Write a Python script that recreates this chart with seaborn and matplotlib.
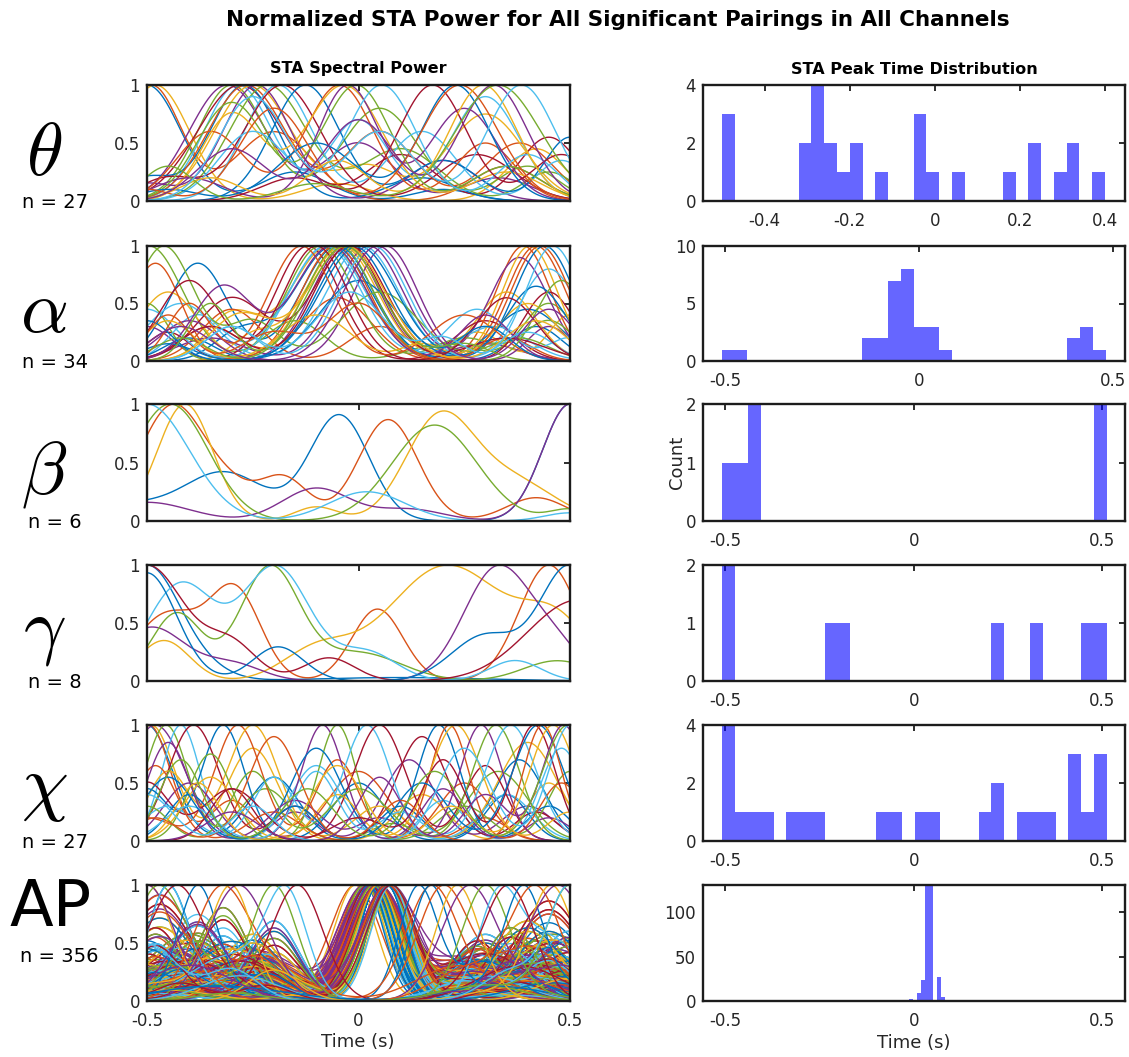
import numpy as np
import pandas as pd
import matplotlib
matplotlib.use("Agg")
import matplotlib.pyplot as plt
import seaborn as sns

sns.set_theme(style="white")
plt.rcParams["font.family"] = ["DejaVu Sans"]
plt.rcParams["mathtext.fontset"] = "cm"
plt.rcParams["axes.unicode_minus"] = False

# ---------------------------------------------------------------- data
# Each pairing: peak time of the normalized STA power, width of the main
# lobe, and secondary lobes (centre, width, relative height).

theta_peaks = [-0.50, -0.49, -0.48, -0.31, -0.30, -0.285, -0.28, -0.27, -0.265,
               -0.25, -0.24, -0.215, -0.19, -0.18, -0.125, -0.045, -0.035,
               -0.025, -0.005, 0.055, 0.175, 0.23, 0.24, 0.295, 0.32, 0.33, 0.385]
theta_widths = [0.08, 0.07, 0.08, 0.09, 0.08, 0.08, 0.10, 0.08, 0.09, 0.09, 0.08,
                0.09, 0.08, 0.09, 0.08, 0.08, 0.09, 0.07, 0.08, 0.08, 0.08, 0.08,
                0.09, 0.08, 0.08, 0.10, 0.08]
theta_side = [
    [(-0.15, 0.08, 0.25), (0.20, 0.07, 0.10)],
    [(-0.20, 0.09, 0.60), (0.35, 0.08, 0.30)],
    [(-0.05, 0.08, 0.15), (0.42, 0.07, 0.45)],
    [(0.00, 0.08, 0.50), (0.33, 0.08, 0.20)],
    [(0.05, 0.09, 0.80), (0.40, 0.07, 0.30)],
    [(0.00, 0.07, 0.70), (0.30, 0.08, 0.90)],
    [(0.10, 0.08, 0.40), (0.45, 0.07, 0.55)],
    [(-0.50, 0.06, 0.20), (0.15, 0.08, 0.20)],
    [(0.05, 0.08, 0.60), (0.38, 0.08, 0.50)],
    [(0.02, 0.07, 0.30), (0.30, 0.09, 0.75)],
    [(-0.50, 0.06, 0.15), (0.20, 0.08, 0.35)],
    [(0.10, 0.09, 0.45), (0.45, 0.06, 0.25)],
    [(0.15, 0.08, 0.60), (0.48, 0.06, 0.35)],
    [(-0.45, 0.07, 0.20), (0.28, 0.09, 0.40)],
    [(0.20, 0.08, 0.35), (0.50, 0.06, 0.55)],
    [(-0.35, 0.08, 0.60), (0.30, 0.07, 0.50)],
    [(-0.30, 0.07, 0.75), (0.35, 0.08, 0.25)],
    [(-0.40, 0.08, 0.20), (0.25, 0.08, 0.80)],
    [(-0.30, 0.08, 0.85), (0.35, 0.08, 0.30)],
    [(-0.25, 0.08, 0.60), (0.40, 0.07, 0.40)],
    [(-0.15, 0.08, 0.20), (0.48, 0.07, 0.40)],
    [(-0.10, 0.09, 0.50), (-0.45, 0.07, 0.10)],
    [(-0.20, 0.08, 0.80), (-0.50, 0.05, 0.10)],
    [(-0.05, 0.07, 0.35), (-0.35, 0.07, 0.20)],
    [(0.00, 0.08, 0.70), (-0.30, 0.08, 0.45)],
    [(-0.10, 0.08, 0.15), (-0.45, 0.06, 0.30)],
    [(0.05, 0.08, 0.60), (-0.25, 0.08, 0.90)],
]

alpha_peaks = [-0.05, 0.42, -0.07, -0.03, -0.495, 0.01, -0.12, -0.06, 0.39, -0.04,
               0.025, -0.09, -0.074, -0.02, 0.44, -0.055, -0.036, 0.065, -0.46,
               -0.078, -0.024, 0.0, -0.135, 0.405, -0.065, -0.045, 0.035, -0.10,
               -0.012, 0.43, -0.028, 0.045, -0.032, 0.46]
alpha_widths = [0.085, 0.07, 0.09, 0.08, 0.08, 0.085, 0.075, 0.09, 0.065, 0.085,
                0.08, 0.08, 0.09, 0.085, 0.07, 0.08, 0.09, 0.075, 0.07, 0.085,
                0.08, 0.09, 0.075, 0.065, 0.085, 0.08, 0.08, 0.075, 0.085, 0.07,
                0.09, 0.08, 0.085, 0.065]
alpha_side = [
    [(-0.38, 0.07, 0.85), (0.42, 0.06, 0.30)],
    [(-0.05, 0.08, 0.55), (-0.35, 0.07, 0.30)],
    [(-0.30, 0.06, 0.40), (0.35, 0.07, 0.60)],
    [(-0.50, 0.06, 0.30), (0.30, 0.08, 0.15)],
    [(-0.15, 0.07, 0.35), (0.20, 0.08, 0.15), (0.45, 0.06, 0.50)],
    [(-0.42, 0.08, 0.50), (0.45, 0.07, 0.80)],
    [(-0.45, 0.05, 0.25), (0.30, 0.07, 0.35)],
    [(-0.28, 0.06, 0.25), (0.40, 0.08, 0.45)],
    [(-0.30, 0.07, 0.45), (0.05, 0.07, 0.30)],
    [(-0.45, 0.07, 0.60), (0.28, 0.06, 0.25), (0.50, 0.05, 0.40)],
    [(-0.35, 0.08, 0.20), (0.38, 0.07, 0.90)],
    [(-0.50, 0.05, 0.50), (0.25, 0.07, 0.20), (0.45, 0.06, 0.35)],
    [(-0.38, 0.06, 0.40), (0.32, 0.08, 0.30)],
    [(-0.30, 0.08, 0.55), (0.45, 0.06, 0.60)],
    [(-0.40, 0.06, 0.20), (0.00, 0.09, 0.70)],
    [(-0.48, 0.06, 0.85), (0.35, 0.06, 0.20)],
    [(-0.25, 0.05, 0.20), (0.40, 0.07, 0.50)],
    [(-0.40, 0.07, 0.35), (0.45, 0.05, 0.30)],
    [(-0.25, 0.06, 0.35), (0.05, 0.09, 0.60), (0.38, 0.07, 0.20)],
    [(-0.50, 0.07, 0.45), (0.28, 0.07, 0.45), (0.50, 0.05, 0.20)],
    [(-0.35, 0.07, 0.30), (0.35, 0.09, 0.20)],
    [(-0.45, 0.06, 0.15), (0.42, 0.07, 0.65)],
    [(-0.40, 0.05, 0.50), (0.25, 0.08, 0.40)],
    [(-0.45, 0.06, 0.35), (-0.10, 0.08, 0.40), (0.15, 0.05, 0.15)],
    [(-0.32, 0.07, 0.65), (0.30, 0.06, 0.40)],
    [(-0.42, 0.06, 0.20), (0.48, 0.06, 0.70)],
    [(-0.30, 0.06, 0.30), (0.40, 0.06, 0.25)],
    [(-0.40, 0.07, 0.70), (0.35, 0.07, 0.55)],
    [(-0.50, 0.06, 0.35), (0.30, 0.06, 0.30)],
    [(-0.20, 0.07, 0.25), (0.00, 0.07, 0.50), (-0.45, 0.05, 0.40)],
    [(-0.28, 0.07, 0.40), (0.42, 0.07, 0.35)],
    [(-0.42, 0.07, 0.30), (0.45, 0.06, 0.45)],
    [(-0.35, 0.05, 0.50), (0.25, 0.06, 0.15)],
    [(-0.30, 0.06, 0.30), (-0.02, 0.08, 0.60), (0.20, 0.05, 0.20)],
]

beta_peaks = [0.5, -0.437, -0.41, 0.5, -0.445, -0.5]
beta_widths = [0.065, 0.08, 0.065, 0.065, 0.09, 0.10]
beta_side = [
    [(-0.55, 0.08, 0.12), (-0.32, 0.10, 0.42), (-0.045, 0.07, 0.90)],
    [(-0.30, 0.05, 0.15), (-0.18, 0.06, 0.38), (0.07, 0.07, 0.87), (0.42, 0.07, 0.20)],
    [(-0.10, 0.05, 0.12), (0.19, 0.08, 0.85), (0.36, 0.10, 0.35)],
    [(-0.50, 0.10, 0.16), (-0.10, 0.08, 0.28), (0.12, 0.08, 0.10)],
    [(0.18, 0.10, 0.82), (0.50, 0.05, 0.10)],
    [(0.02, 0.09, 0.25), (0.50, 0.06, 0.07)],
]

gamma_peaks = [-0.5, 0.45, 0.21, 0.33, -0.21, -0.195, -0.5, 0.5]
gamma_widths = [0.08, 0.07, 0.14, 0.08, 0.07, 0.08, 0.09, 0.07]
gamma_side = [
    [(-0.35, 0.06, 0.05), (0.10, 0.20, 0.03)],
    [(-0.45, 0.08, 0.58), (-0.29, 0.06, 0.75), (0.045, 0.06, 0.62)],
    [(-0.46, 0.06, 0.35), (-0.10, 0.08, 0.25), (0.47, 0.08, 0.45)],
    [(-0.49, 0.08, 0.47), (-0.30, 0.07, 0.15), (0.47, 0.06, 0.25)],
    [(-0.43, 0.06, 0.60), (0.00, 0.10, 0.25), (0.47, 0.08, 0.18)],
    [(-0.42, 0.08, 0.85), (0.02, 0.07, 0.25), (0.37, 0.06, 0.18)],
    [(-0.30, 0.06, 0.30), (-0.07, 0.06, 0.20), (0.52, 0.12, 0.70)],
    [(-0.50, 0.07, 0.95), (-0.19, 0.06, 0.30), (0.30, 0.08, 0.40)],
]

chi_peaks = [-0.5, -0.495, -0.49, -0.48, -0.455, -0.42, -0.39, -0.32, -0.285,
             -0.25, -0.085, -0.05, 0.02, 0.05, 0.19, 0.215, 0.23, 0.29, 0.325,
             0.36, 0.415, 0.425, 0.435, 0.46, 0.485, 0.495, 0.5]
chi_widths = [0.06, 0.05, 0.055, 0.07, 0.05, 0.045, 0.06, 0.05, 0.055, 0.06, 0.05,
              0.045, 0.055, 0.06, 0.05, 0.045, 0.06, 0.05, 0.055, 0.06, 0.05, 0.06,
              0.045, 0.055, 0.05, 0.06, 0.05]
chi_side = [
    [(-0.20, 0.06, 0.55), (0.10, 0.05, 0.30), (0.38, 0.06, 0.70)],
    [(-0.30, 0.05, 0.35), (0.00, 0.07, 0.60), (0.30, 0.05, 0.20)],
    [(-0.25, 0.06, 0.80), (0.15, 0.06, 0.40), (0.45, 0.05, 0.50)],
    [(-0.15, 0.05, 0.25), (0.12, 0.06, 0.70), (0.40, 0.06, 0.30)],
    [(-0.22, 0.06, 0.45), (0.08, 0.05, 0.15), (0.33, 0.07, 0.60)],
    [(-0.10, 0.06, 0.65), (0.20, 0.05, 0.35), (0.48, 0.05, 0.80)],
    [(-0.15, 0.05, 0.30), (0.15, 0.06, 0.90), (0.42, 0.05, 0.25)],
    [(-0.50, 0.05, 0.45), (0.00, 0.06, 0.50), (0.35, 0.05, 0.40)],
    [(-0.50, 0.06, 0.20), (-0.05, 0.05, 0.70), (0.25, 0.06, 0.50)],
    [(-0.45, 0.05, 0.60), (0.05, 0.06, 0.30), (0.40, 0.07, 0.85)],
    [(-0.40, 0.06, 0.50), (0.20, 0.05, 0.45), (0.45, 0.05, 0.20)],
    [(-0.35, 0.05, 0.75), (0.25, 0.06, 0.30), (0.50, 0.05, 0.60)],
    [(-0.45, 0.06, 0.30), (-0.20, 0.05, 0.55), (0.35, 0.06, 0.40)],
    [(-0.30, 0.07, 0.45), (0.30, 0.05, 0.65), (-0.50, 0.05, 0.50)],
    [(-0.40, 0.05, 0.40), (-0.10, 0.06, 0.80), (0.45, 0.05, 0.30)],
    [(-0.48, 0.05, 0.65), (-0.20, 0.06, 0.25), (0.48, 0.05, 0.50)],
    [(-0.35, 0.06, 0.55), (-0.05, 0.05, 0.40), (0.50, 0.05, 0.25)],
    [(-0.45, 0.05, 0.85), (-0.15, 0.06, 0.35), (0.05, 0.05, 0.20)],
    [(-0.25, 0.05, 0.60), (0.00, 0.07, 0.45), (-0.50, 0.05, 0.30)],
    [(-0.40, 0.06, 0.30), (-0.10, 0.05, 0.60), (0.10, 0.05, 0.25)],
    [(-0.30, 0.05, 0.45), (0.00, 0.06, 0.20), (0.20, 0.05, 0.70)],
    [(-0.45, 0.06, 0.55), (-0.15, 0.05, 0.30), (0.15, 0.06, 0.50)],
    [(-0.20, 0.06, 0.90), (0.10, 0.05, 0.35), (-0.48, 0.05, 0.20)],
    [(-0.38, 0.05, 0.50), (-0.05, 0.06, 0.65), (0.22, 0.05, 0.30)],
    [(-0.30, 0.06, 0.25), (0.05, 0.05, 0.55), (0.30, 0.05, 0.40)],
    [(-0.42, 0.05, 0.70), (-0.12, 0.06, 0.45), (0.18, 0.06, 0.60)],
    [(-0.50, 0.06, 0.40), (-0.25, 0.05, 0.30), (0.25, 0.06, 0.80)],
]

# AP: peak times as (time, number of pairings)
ap_peak_times = [-0.4523, -0.0071, 0.0141, 0.0247, 0.0353, 0.0459, 0.0671,
                 0.0777, 0.1413, 0.1731]
ap_peak_counts = [1, 2, 9, 24, 130, 131, 27, 5, 1, 1]
# pairings whose strongest lobe lies away from the spike
ap_other_peaks = [-0.50, -0.50, -0.48, -0.45, -0.42, -0.38, -0.33, -0.30, -0.26,
                  -0.20, -0.17, -0.14, 0.17, 0.20, 0.23, 0.27, 0.30, 0.33, 0.36,
                  0.39, 0.42, 0.45, 0.48, 0.50, 0.50]
ap_widths = [0.045, 0.060, 0.050, 0.065, 0.055, 0.048, 0.058]
ap_side_scales = [1.0, 0.55, 0.8, 0.35, 1.15, 0.7, 0.9, 0.45, 1.05]
ap_side_patterns = [
    [(-0.42, 0.08, 0.35), (0.30, 0.09, 0.30)],
    [(-0.30, 0.10, 0.45), (0.25, 0.07, 0.20), (0.45, 0.06, 0.40)],
    [(-0.48, 0.06, 0.55), (-0.20, 0.08, 0.20), (0.38, 0.10, 0.35)],
    [(-0.35, 0.12, 0.25), (0.32, 0.12, 0.25)],
    [(-0.25, 0.07, 0.50), (0.40, 0.08, 0.60)],
    [(-0.45, 0.10, 0.30), (-0.15, 0.05, 0.15), (0.28, 0.06, 0.45)],
    [(-0.38, 0.07, 0.65), (0.22, 0.06, 0.15), (0.48, 0.07, 0.30)],
    [(-0.50, 0.10, 0.20), (0.35, 0.10, 0.15)],
    [(-0.28, 0.09, 0.30), (0.45, 0.08, 0.75)],
    [(-0.42, 0.06, 0.40), (-0.22, 0.06, 0.35), (0.30, 0.07, 0.50)],
    [(-0.33, 0.15, 0.15), (0.40, 0.15, 0.20)],
    [(-0.47, 0.08, 0.80), (0.26, 0.08, 0.30)],
    [(-0.20, 0.06, 0.60), (0.33, 0.08, 0.20), (0.50, 0.06, 0.50)],
    [(-0.40, 0.10, 0.50), (0.20, 0.05, 0.10), (0.42, 0.09, 0.45)],
    [(-0.30, 0.08, 0.20), (0.30, 0.10, 0.40)],
    [(-0.50, 0.07, 0.45), (-0.30, 0.06, 0.25), (0.37, 0.07, 0.25)],
    [(-0.36, 0.09, 0.35), (0.46, 0.10, 0.50)],
    [(-0.24, 0.10, 0.40), (0.24, 0.10, 0.35)],
    [(-0.45, 0.12, 0.25), (0.50, 0.08, 0.30)],
    [(-0.32, 0.06, 0.70), (0.36, 0.06, 0.55)],
]

matlab_colors = ["#0072BD", "#D95319", "#EDB120", "#7E2F8E",
                 "#77AC30", "#4DBEEE", "#A2142F"]

# ---------------------------------------------------------------- helpers
t = np.linspace(-0.5, 0.5, 601)


def lobe(center, width, height):
    return height * np.exp(-0.5 * ((t - center) / width) ** 2)


def band_frame(peaks, widths, sides):
    frames = []
    for k, (p, w, side) in enumerate(zip(peaks, widths, sides)):
        y = lobe(p, w, 1.0)
        for c, s, a in side:
            y = y + lobe(c, s, a)
        frames.append(pd.DataFrame({"time": t, "power": y / y.max(),
                                    "pairing": f"p{k:03d}"}))
    return pd.concat(frames, ignore_index=True)


ap_hist_peaks = np.repeat(ap_peak_times, ap_peak_counts)
ap_all_peaks = list(ap_hist_peaks) + ap_other_peaks
ap_n = len(ap_all_peaks)
ap_all_widths = [ap_widths[k % len(ap_widths)] for k in range(ap_n)]
ap_all_side = [[(c, s, a * ap_side_scales[k % len(ap_side_scales)])
                for c, s, a in ap_side_patterns[k % len(ap_side_patterns)]]
               for k in range(ap_n)]

bands = [
    dict(sym=r"$\theta$", sym_dy=12, peaks=theta_peaks, widths=theta_widths,
         side=theta_side, hist=theta_peaks,
         edges=np.round(-0.5 + 0.03 * np.arange(32), 4),
         xlim=(-0.545, 0.447), ylim=(0, 4), yticks=[0, 2, 4],
         xticks=[-0.4, -0.2, 0, 0.2, 0.4]),
    dict(sym=r"$\alpha$", sym_dy=8, peaks=alpha_peaks, widths=alpha_widths,
         side=alpha_side, hist=alpha_peaks,
         edges=np.round(-0.51 + 0.033 * np.arange(32), 4),
         xlim=(-0.558, 0.53), ylim=(0, 10), yticks=[0, 5, 10],
         xticks=[-0.5, 0, 0.5]),
    dict(sym=r"$\beta$", sym_dy=11, peaks=beta_peaks, widths=beta_widths,
         side=beta_side, hist=beta_peaks,
         edges=np.round(-0.508 + 0.034 * np.arange(31), 4),
         xlim=(-0.559, 0.56), ylim=(0, 2), yticks=[0, 1, 2],
         xticks=[-0.5, 0, 0.5]),
    dict(sym=r"$\gamma$", sym_dy=8, peaks=gamma_peaks, widths=gamma_widths,
         side=gamma_side, hist=gamma_peaks,
         edges=np.round(-0.508 + 0.034 * np.arange(31), 4),
         xlim=(-0.559, 0.56), ylim=(0, 2), yticks=[0, 1, 2],
         xticks=[-0.5, 0, 0.5]),
    dict(sym=r"$\chi$", sym_dy=4, peaks=chi_peaks, widths=chi_widths,
         side=chi_side, hist=chi_peaks,
         edges=np.round(-0.508 + 0.034 * np.arange(31), 4),
         xlim=(-0.559, 0.56), ylim=(0, 4), yticks=[0, 2, 4],
         xticks=[-0.5, 0, 0.5]),
    dict(sym="AP", sym_dy=0, peaks=ap_all_peaks, widths=ap_all_widths,
         side=ap_all_side, hist=ap_hist_peaks,
         edges=np.round(-0.5 + 0.0106 * np.arange(96), 4),
         xlim=(-0.559, 0.56), ylim=(0, 131), yticks=[0, 50, 100],
         xticks=[-0.5, 0, 0.5]),
]

# ---------------------------------------------------------------- figure
W, H = 1129, 1057
fig = plt.figure(figsize=(W / 100, H / 100), dpi=100)
fig.patch.set_facecolor("white")

rows = [(85, 201), (246, 361), (404, 521), (565, 681), (725, 841), (885, 1001)]
LEFT = (147, 570)
RIGHT = (703, 1125)
INK = "#262626"


def px_axes(x0, x1, y0, y1):
    return fig.add_axes([x0 / W, 1 - y1 / H, (x1 - x0) / W, (y1 - y0) / H])


def dress(ax):
    for sp in ax.spines.values():
        sp.set_visible(True)
        sp.set_linewidth(1.7)
        sp.set_color("#1c1c1c")
    ax.tick_params(direction="in", top=True, right=True, length=4, width=1.3,
                   color="#1c1c1c", labelsize=12, labelcolor=INK)
    ax.tick_params(axis="y", pad=5)
    ax.tick_params(axis="x", pad=8)
    ax.set_xlabel("")
    ax.set_ylabel("")


def fmt(v):
    return f"{v:g}"


for i, (band, (y0, y1)) in enumerate(zip(bands, rows)):
    last = i == len(bands) - 1

    # spectral power traces
    axl = px_axes(LEFT[0], LEFT[1], y0, y1)
    df = band_frame(band["peaks"], band["widths"], band["side"])
    n = df["pairing"].nunique()
    pal = [matlab_colors[k % len(matlab_colors)] for k in range(n)]
    sns.lineplot(data=df, x="time", y="power", hue="pairing", palette=pal,
                 legend=False, estimator=None, sort=False, linewidth=1.0, ax=axl)
    axl.set_xlim(-0.5, 0.5)
    axl.set_ylim(0, 1)
    axl.set_yticks([0, 0.5, 1])
    axl.set_yticklabels(["0", "0.5", "1"])
    axl.set_xticks([-0.5, 0, 0.5])
    dress(axl)
    if last:
        axl.set_xticklabels(["-0.5", "0", "0.5"])
    else:
        axl.set_xticklabels([])

    # peak time distribution
    axr = px_axes(RIGHT[0], RIGHT[1], y0, y1)
    sns.histplot(x=np.asarray(band["hist"], dtype=float), bins=band["edges"],
                 color="blue", alpha=0.6, edgecolor="none", linewidth=0, ax=axr)
    axr.set_xlim(*band["xlim"])
    axr.set_ylim(*band["ylim"])
    axr.set_yticks(band["yticks"])
    axr.set_yticklabels([fmt(v) for v in band["yticks"]])
    axr.set_xticks(band["xticks"])
    axr.set_xticklabels([fmt(v) for v in band["xticks"]])
    dress(axr)

    # band symbol and pairing count
    cy = (y0 + y1) / 2
    if band["sym"] == "AP":
        fig.text(51 / W, 1 - 908 / H, "AP", fontsize=46, ha="center",
                 va="center", color="black")
        fig.text(59 / W, 1 - 957 / H, f"n = {n}", fontsize=14, ha="center",
                 va="center", color="black")
    else:
        fig.text(44 / W, 1 - (cy + band["sym_dy"]) / H, band["sym"],
                 fontsize=54, ha="center", va="center", color="black")
        fig.text(55 / W, 1 - (y1 + 1) / H, f"n = {n}", fontsize=14,
                 ha="center", va="center", color="black")

fig.text(618 / W, 1 - 20 / H,
         "Normalized STA Power for All Significant Pairings in All Channels",
         fontsize=15.5, fontweight="bold", ha="center", va="center", color="black")
fig.text(358 / W, 1 - 69 / H, "STA Spectral Power", fontsize=11.5,
         fontweight="bold", ha="center", va="center", color="black")
fig.text(914 / W, 1 - 69 / H, "STA Peak Time Distribution", fontsize=11.5,
         fontweight="bold", ha="center", va="center", color="black")
fig.text(677 / W, 1 - 462 / H, "Count", fontsize=13, rotation=90,
         ha="center", va="center", color=INK)
fig.text(358 / W, 1 - 1042 / H, "Time (s)", fontsize=13, ha="center",
         va="center", color=INK)
fig.text(914 / W, 1 - 1043 / H, "Time (s)", fontsize=13, ha="center",
         va="center", color=INK)

fig.savefig("out.png", dpi=100, facecolor="white")
